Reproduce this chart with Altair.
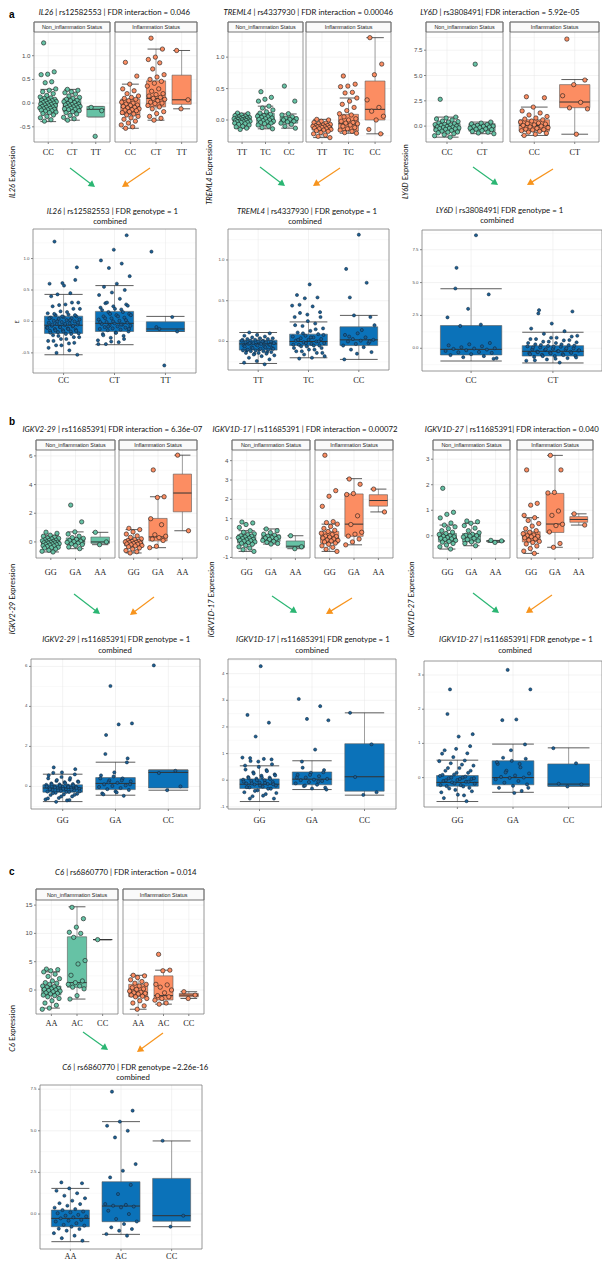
import math
import altair as alt
import pandas as pd

# ======================= labels =======================
IL26_GENOTYPES = ["CC", "CT", "TT"]
TREML4_GENOTYPES = ["TT", "TC", "CC"]
LY6D_GENOTYPES = ["CC", "CT"]
IGKV_GENOTYPES = ["GG", "GA", "AA"]
IGKV_GENOTYPES_COMBINED = ["GG", "GA", "CC"]
C6_GENOTYPES = ["AA", "AC", "CC"]
STATUS_LABELS = ["Non_inflammation Status", "Inflammation Status"]

# ======================= IL26 | rs12582553 =======================
IL26_NON_CC = [1.27, 0.66, 0.61, 0.60, 0.45, 0.43, 0.30, 0.27, 0.24, 0.20, 0.16, 0.13, 0.11, 0.10, 0.08, 0.07,
               0.06, 0.05, 0.04, 0.03, 0.02, 0.01, 0.00, -0.01, -0.02, -0.03, -0.04, -0.05, -0.06, -0.07, -0.08,
               -0.09, -0.10, -0.11, -0.12, -0.13, -0.14, -0.15, -0.16, -0.17, -0.19, -0.20, -0.22, -0.25, -0.28,
               -0.31, -0.35, -0.38]
IL26_NON_CT = [0.29, 0.27, 0.24, 0.22, 0.19, 0.15, 0.12, 0.10, 0.08, 0.06, 0.05, 0.03, 0.01, -0.01, -0.02, -0.03,
               -0.04, -0.05, -0.06, -0.07, -0.08, -0.09, -0.10, -0.11, -0.12, -0.13, -0.14, -0.16, -0.18, -0.20,
               -0.23, -0.26, -0.30, -0.33, -0.36]
IL26_NON_TT = [-0.09, -0.16, -0.70]
IL26_INF_CC = [0.86, 0.57, 0.40, 0.30, 0.26, 0.20, 0.15, 0.12, 0.10, 0.08, 0.05, 0.02, 0.00, -0.02, -0.04, -0.05,
               -0.07, -0.09, -0.10, -0.12, -0.14, -0.15, -0.16, -0.18, -0.20, -0.23, -0.25, -0.28, -0.31, -0.34,
               -0.38, -0.42, -0.46, -0.50, -0.53]
IL26_INF_CT = [1.37, 1.14, 0.97, 0.92, 0.85, 0.72, 0.60, 0.55, 0.50, 0.46, 0.42, 0.36, 0.30, 0.25, 0.20, 0.18,
               0.15, 0.12, 0.10, 0.08, 0.05, 0.02, 0.00, -0.01, -0.05, -0.08, -0.12, -0.18, -0.22, -0.28, -0.32,
               -0.36]
IL26_INF_TT = [1.11, 0.07, -0.12]
# box summaries: [lower whisker, Q1, median, Q3, upper whisker]
IL26_BOX_NON = [[-0.39, -0.15, -0.03, 0.085, 0.29], [-0.36, -0.18, -0.06, 0.10, 0.29], [-0.29, -0.29, -0.13, -0.07, -0.07]]
IL26_BOX_INF = [[-0.53, -0.24, -0.09, 0.085, 0.40], [-0.36, -0.08, 0.10, 0.47, 1.14], [-0.12, -0.025, 0.07, 0.59, 1.11]]
IL26_BOX_COMBINED = [[-0.53, -0.19, -0.06, 0.084, 0.43], [-0.37, -0.16, -0.03, 0.16, 0.57], [-0.16, -0.16, -0.12, -0.006, 0.08]]

# ======================= TREML4 | rs4337930 =======================
TREML4_NON_TT = [0.11, 0.10, 0.08, 0.07, 0.06, 0.05, 0.04, 0.04, 0.03, 0.03, 0.02, 0.02, 0.01, 0.01, 0.00, 0.00,
                 -0.01, -0.01, -0.02, -0.02, -0.03, -0.03, -0.04, -0.04, -0.05, -0.06, -0.07, -0.08, -0.10, -0.11,
                 -0.13, -0.15]
TREML4_NON_TC = [0.45, 0.36, 0.33, 0.30, 0.22, 0.19, 0.16, 0.13, 0.11, 0.09, 0.07, 0.06, 0.05, 0.04, 0.03, 0.02,
                 0.01, 0.00, -0.01, -0.02, -0.03, -0.04, -0.05, -0.06, -0.08, -0.10, -0.12, -0.14]
TREML4_NON_CC = [0.54, 0.30, 0.10, 0.08, 0.05, 0.03, 0.02, 0.01, 0.00, -0.02, -0.03, -0.05, -0.07, -0.10, -0.13]
TREML4_INF_TT = [0.01, 0.00, -0.02, -0.04, -0.05, -0.06, -0.07, -0.08, -0.09, -0.09, -0.10, -0.10, -0.11, -0.11,
                 -0.12, -0.12, -0.13, -0.14, -0.14, -0.15, -0.16, -0.17, -0.18, -0.20, -0.22, -0.24, -0.26, -0.28]
TREML4_INF_TC = [0.70, 0.57, 0.54, 0.53, 0.44, 0.43, 0.35, 0.30, 0.25, 0.20, 0.15, 0.10, 0.08, 0.05, 0.02, 0.00,
                 -0.02, -0.04, -0.05, -0.06, -0.08, -0.10, -0.12, -0.14, -0.16, -0.18, -0.20, -0.21]
TREML4_INF_CC = [1.31, 0.89, 0.72, 0.32, 0.20, 0.14, 0.06, 0.00, -0.15, -0.22]
TREML4_BOX_NON = [[-0.13, -0.043, 0.0, 0.053, 0.107], [-0.14, -0.064, 0.016, 0.107, 0.22], [-0.13, -0.05, 0.0, 0.05, 0.096]]
TREML4_BOX_INF = [[-0.28, -0.16, -0.11, -0.064, 0.01], [-0.21, -0.175, -0.06, 0.09, 0.35], [-0.22, 0.0, 0.17, 0.62, 1.31]]
TREML4_BOX_COMBINED = [[-0.27, -0.106, -0.03, 0.016, 0.11], [-0.20, -0.05, 0.0, 0.09, 0.24], [-0.22, -0.05, 0.02, 0.18, 0.32]]

# ======================= LY6D | rs3808491 =======================
LY6D_NON_CC = [2.65, 0.89, 0.80, 0.70, 0.60, 0.50, 0.45, 0.40, 0.30, 0.24, 0.18, 0.15, 0.12, 0.06, 0.00, -0.04,
               -0.08, -0.10, -0.14, -0.18, -0.22, -0.25, -0.27, -0.32, -0.38, -0.44, -0.50, -0.58, -0.60, -0.66,
               -0.75, -0.85, -0.95, -1.09]
LY6D_NON_CT = [6.12, 0.40, 0.30, 0.22, 0.15, 0.08, 0.00, -0.02, -0.05, -0.10, -0.15, -0.20, -0.28, -0.30, -0.35,
               -0.45, -0.52, -0.60, -0.68, -0.75]
LY6D_INF_CC = [2.90, 2.80, 1.88, 1.50, 1.30, 1.10, 0.95, 0.80, 0.70, 0.62, 0.50, 0.40, 0.30, 0.25, 0.20, 0.12,
               0.07, 0.00, -0.08, -0.15, -0.22, -0.30, -0.35, -0.38, -0.45, -0.52, -0.60, -0.70, -0.80, -0.92]
LY6D_INF_CT = [8.60, 4.55, 4.10, 3.00, 2.35, 1.80, 1.70, -0.80]
LY6D_BOX_NON = [[-1.09, -0.50, -0.10, 0.24, 0.89], [-0.75, -0.50, -0.10, 0.24, 0.40]]
LY6D_BOX_INF = [[-0.92, -0.50, 0.07, 0.63, 1.88], [-0.80, 1.82, 2.38, 4.10, 4.60]]
LY6D_BOX_COMBINED = [[-0.97, -0.51, -0.08, 1.73, 4.53], [-1.12, -0.59, -0.23, 0.20, 1.22]]

# ======================= IGKV2-29 | rs11685391 =======================
IGKV229_NON_GG = [0.68, 0.60, 0.47, 0.40, 0.33, 0.27, 0.25, 0.21, 0.15, 0.12, 0.10, 0.08, 0.04, 0.00, -0.02, -0.03,
                  -0.06, -0.07, -0.09, -0.12, -0.15, -0.18, -0.20, -0.22, -0.26, -0.28, -0.32, -0.37, -0.40, -0.43,
                  -0.50, -0.58, -0.65, -0.70]
IGKV229_NON_GA = [2.57, 1.40, 0.70, 0.55, 0.40, 0.30, 0.25, 0.18, 0.10, 0.05, 0.02, -0.03, -0.08, -0.14, -0.18,
                  -0.25, -0.35, -0.47]
IGKV229_NON_AA = [0.67, 0.00, -0.19]
IGKV229_INF_GG = [0.95, 0.86, 0.70, 0.55, 0.42, 0.32, 0.22, 0.16, 0.10, 0.05, 0.03, 0.00, -0.03, -0.05, -0.08,
                  -0.12, -0.14, -0.16, -0.20, -0.25, -0.28, -0.34, -0.42, -0.50, -0.60, -0.68, -0.77]
IGKV229_INF_GA = [5.02, 3.15, 3.10, 1.62, 1.20, 0.50, 0.40, 0.30, 0.20, 0.10, -0.30, -0.40]
IGKV229_INF_AA = [6.05, 0.78]
IGKV229_BOX_NON = [[-0.70, -0.28, -0.07, 0.12, 0.47], [-0.47, -0.16, 0.05, 0.28, 0.70], [-0.19, -0.10, 0.00, 0.34, 0.67]]
IGKV229_BOX_INF = [[-0.77, -0.28, -0.05, 0.16, 0.86], [-0.40, 0.07, 0.35, 1.64, 3.15], [0.78, 2.10, 3.41, 4.73, 6.05]]
IGKV229_BOX_COMBINED = [[-0.76, -0.29, -0.08, 0.08, 0.61], [-0.44, -0.16, 0.15, 0.44, 1.21], [-0.19, -0.08, 0.70, 0.82, 0.82]]

# ======================= IGKV1D-17 | rs11685391 =======================
IGKV1D17_NON_GG = [0.83, 0.78, 0.70, 0.55, 0.38, 0.30, 0.22, 0.17, 0.12, 0.10, 0.06, 0.02, 0.00, -0.03, -0.07,
                   -0.09, -0.12, -0.14, -0.16, -0.20, -0.24, -0.27, -0.32, -0.38, -0.45, -0.52, -0.60, -0.69]
IGKV1D17_NON_GA = [0.47, 0.38, 0.28, 0.20, 0.15, 0.10, 0.05, 0.02, 0.00, -0.03, -0.07, -0.12, -0.17, -0.22, -0.28, -0.31]
IGKV1D17_NON_AA = [0.12, -0.45, -0.55]
IGKV1D17_INF_GG = [4.28, 2.45, 2.16, 1.64, 0.85, 0.80, 0.72, 0.60, 0.50, 0.40, 0.34, 0.25, 0.18, 0.10, 0.08, 0.05,
                   0.00, -0.05, -0.10, -0.12, -0.15, -0.20, -0.26, -0.32, -0.40, -0.48, -0.58, -0.69]
IGKV1D17_INF_GA = [3.05, 2.78, 2.30, 2.25, 1.15, 0.70, 0.30, 0.20, 0.10, -0.05, -0.20, -0.35]
IGKV1D17_INF_AA = [2.53, 1.35]
IGKV1D17_BOX_NON = [[-0.69, -0.26, -0.09, 0.17, 0.38], [-0.31, -0.17, 0.00, 0.17, 0.47], [-0.55, -0.50, -0.42, -0.15, 0.12]]
IGKV1D17_BOX_INF = [[-0.69, -0.26, 0.00, 0.34, 0.72], [-0.35, 0.09, 0.72, 2.28, 3.07], [1.35, 1.65, 1.94, 2.24, 2.53]]
IGKV1D17_BOX_COMBINED = [[-0.80, -0.31, -0.15, 0.05, 0.54], [-0.35, -0.17, 0.04, 0.31, 0.73], [-0.56, -0.41, 0.13, 1.37, 2.53]]

# ======================= IGKV1D-27 | rs11685391 =======================
IGKV1D27_NON_GG = [1.86, 0.92, 0.84, 0.70, 0.50, 0.42, 0.35, 0.28, 0.20, 0.14, 0.09, 0.05, 0.00, -0.02, -0.04,
                   -0.07, -0.10, -0.12, -0.14, -0.18, -0.22, -0.25, -0.30, -0.36, -0.43, -0.52]
IGKV1D27_NON_GA = [0.58, 0.55, 0.49, 0.40, 0.30, 0.20, 0.12, 0.06, 0.02, 0.00, -0.01, -0.05, -0.10, -0.15, -0.20,
                   -0.24, -0.30, -0.39]
IGKV1D27_NON_AA = [-0.18, -0.20, -0.26]
IGKV1D27_INF_GG = [2.58, 1.27, 1.20, 0.80, 0.71, 0.60, 0.48, 0.38, 0.28, 0.20, 0.14, 0.08, 0.03, 0.00, -0.02,
                   -0.04, -0.08, -0.12, -0.17, -0.22, -0.26, -0.32, -0.40, -0.50, -0.60, -0.69]
IGKV1D27_INF_GA = [3.15, 2.58, 1.70, 1.68, 0.97, 0.80, 0.45, 0.40, 0.15, -0.30, -0.45]
IGKV1D27_INF_AA = [0.86, 0.42]
IGKV1D27_BOX_NON = [[-0.52, -0.24, -0.07, 0.09, 0.42], [-0.39, -0.24, -0.01, 0.09, 0.49], [-0.26, -0.23, -0.20, -0.19, -0.18]]
IGKV1D27_BOX_INF = [[-0.69, -0.24, -0.04, 0.16, 0.71], [-0.45, 0.13, 0.46, 1.66, 3.15], [0.42, 0.53, 0.64, 0.75, 0.86]]
IGKV1D27_BOX_COMBINED = [[-0.70, -0.25, -0.14, 0.06, 0.51], [-0.43, -0.21, 0.00, 0.49, 0.98], [-0.25, -0.25, -0.19, 0.40, 0.87]]

# ======================= C6 | rs6860770 =======================
C6_NON_AA = [3.7, 3.6, 3.4, 3.2, 2.8, 2.4, 2.0, 1.6, 1.3, 1.2, 1.0, 0.7, 0.6, 0.5, 0.3, 0.2, 0.1, 0.0, -0.1, -0.2,
             -0.3, -0.5, -0.6, -0.7, -0.9, -1.0, -1.2, -1.5, -1.9, -2.3, -2.7, -3.2, -3.4]
C6_NON_AC = [14.6, 12.6, 11.1, 10.2, 10.0, 9.3, 5.2, 4.6, 2.6, 1.6, 1.3, 1.0, 0.7, 0.5, 0.2, -1.0, -1.6]
C6_NON_CC = [8.9]
C6_INF_AA = [2.6, 2.5, 2.2, 1.8, 1.5, 1.2, 1.0, 0.7, 0.4, 0.2, 0.1, -0.2, -0.4, -0.5, -0.6, -0.7, -0.9, -1.1,
             -1.2, -1.5, -1.9, -2.3, -2.8, -3.4]
C6_INF_AC = [6.3, 3.5, 3.4, 1.0, 0.9, 0.5, 0.0, -0.5, -1.0, -1.2, -1.5, -1.8, -2.3, -2.5]
C6_INF_CC = [-0.3, -0.9, -1.5]
C6_COMB_AA = [1.90, 1.85, 1.54, 1.40, 1.25, 1.10, 0.95, 0.80, 0.65, 0.60, 0.50, 0.38, 0.30, 0.24, 0.15, 0.10,
              0.05, -0.05, -0.10, -0.15, -0.20, -0.26, -0.35, -0.40, -0.45, -0.55, -0.65, -0.70, -0.76, -0.88,
              -0.90, -1.00, -1.15, -1.30, -1.45, -1.60]
C6_COMB_AC = [7.35, 6.21, 5.55, 5.30, 5.00, 4.60, 3.00, 2.60, 2.20, 1.75, 1.20, 0.60, 0.55, 0.50, 0.45, 0.40,
              0.20, 0.00, -0.30, -0.45, -0.60, -0.80, -0.90, -1.00, -1.20, -1.30]
C6_COMB_CC = [4.40, -0.10, -0.76]
C6_BOX_NON = [[-3.2, -0.88, 0.0, 0.7, 3.2], [-1.6, 0.47, 1.3, 9.4, 14.7], [8.9, 8.9, 8.9, 8.9, 8.9]]
C6_BOX_INF = [[-3.4, -1.18, -0.47, 1.0, 2.6], [-2.5, -1.76, -1.0, 2.5, 3.5], [-1.5, -1.2, -0.9, -0.6, -0.3]]
C6_BOX_COMBINED = [[-1.66, -0.76, -0.26, 0.24, 1.54], [-1.22, -0.46, 0.48, 1.94, 5.55], [-0.76, -0.43, -0.10, 2.14, 4.39]]

# ======================= layout (page pixel coordinates) =======================
W, H = 594, 1254


def P(v):
    return v - 8


LAYOUT = {
    "IL26": dict(title=(112, 13), strip=(22, 32), pbot=142, non=(34, 110), inf=(115, 197), ylab=(13, 172),
                 green=(70, 168, 95, 187), orange=(150, 168, 122, 187), btitle=(110, 212, 222),
                 bx=(33, 196), by=(229, 373), xl_top=153, xl_bot=381,
                 ydom=(-0.82, 1.50), bydom=(-0.82, 1.47), ticks=[-0.5, 0, 0.5, 1.0], bticks=[-0.5, 0, 0.5, 1.0],
                 fmt=".1f", bfmt=".1f"),
    "TREML4": dict(title=(306, 13), strip=(22, 32), pbot=142, non=(228, 303), inf=(306, 391), ylab=(210, 172),
                   green=(260, 167, 285, 186), orange=(340, 168, 313, 186), btitle=(305, 212, 222),
                   bx=(228, 389), by=(229, 370), xl_top=153, xl_bot=381,
                   ydom=(-0.35, 1.40), bydom=(-0.35, 1.38), ticks=[0, 0.5, 1.0], bticks=[0, 0.5, 1.0],
                   fmt=".1f", bfmt=".1f"),
    "LY6D": dict(title=(497, 13), strip=(22, 32), pbot=142, non=(426, 503), inf=(510, 599), ylab=(406, 172),
                 green=(473, 167, 498, 185), orange=(553, 169, 527, 185), btitle=(497, 211, 221),
                 bx=(422, 602), by=(230, 371), xl_top=153, xl_bot=381,
                 ydom=(-1.57, 9.3), bydom=(-1.73, 9.0), ticks=[0, 2.5, 5.0, 7.5], bticks=[0, 2.5, 5.0, 7.5],
                 fmt=".1f", bfmt=".1f"),
    "IGKV2-29": dict(title=(111, 430), strip=(440, 450), pbot=558, non=(36, 115), inf=(119, 197), ylab=(13, 598),
                     green=(74, 594, 100, 614), orange=(154, 597, 130, 615), btitle=(115, 640, 651),
                     bx=(31, 200), by=(659, 809), xl_top=573, xl_bot=821,
                     ydom=(-1.12, 6.41), bydom=(-1.13, 6.37), ticks=[0, 2, 4, 6], bticks=[0, 2, 4, 6],
                     fmt="d", bfmt="d"),
    "IGKV1D-17": dict(title=(304, 430), strip=(440, 450), pbot=558, non=(232, 310), inf=(315, 393), ylab=(212, 598),
                      green=(272, 596, 297, 613), orange=(352, 598, 326, 614), btitle=(312, 640, 651),
                      bx=(228, 396), by=(659, 809), xl_top=573, xl_bot=821,
                      ydom=(-1.03, 4.55), bydom=(-1.08, 4.55), ticks=[-1, 0, 1, 2, 3, 4], bticks=[-1, 0, 1, 2, 3, 4],
                      fmt="d", bfmt="d"),
    "IGKV1D-27": dict(title=(511, 430), strip=(440, 450), pbot=558, non=(433, 510), inf=(517, 593), ylab=(412, 598),
                      green=(473, 593, 499, 613), orange=(552, 595, 526, 613), btitle=(515, 640, 651),
                      bx=(424, 602), by=(661, 807), xl_top=573, xl_bot=821,
                      ydom=(-0.87, 3.36), bydom=(-0.86, 3.41), ticks=[0, 1, 2, 3], bticks=[0, 1, 2, 3],
                      fmt="d", bfmt="d"),
    "C6": dict(title=(124, 873), strip=(889, 900), pbot=1014, non=(36, 118), inf=(123, 204), ylab=(13, 1028),
               green=(83, 1032, 108, 1050), orange=(163, 1033, 137, 1052), btitle=(133, 1068, 1078),
               bx=(40, 202), by=(1085, 1249), xl_top=1024, xl_bot=1257,
               ydom=(-4.24, 15.9), bydom=(-2.1, 7.75), ticks=[0, 5, 10, 15], bticks=[0, 2.5, 5.0, 7.5],
               fmt="d", bfmt=".1f"),
}

GENES = [
    dict(gene="IL26", snp="rs12582553 | FDR interaction = 0.046", bsnp="rs12582553 | FDR genotype = 1",
         geno=IL26_GENOTYPES, bgeno=IL26_GENOTYPES,
         non=[IL26_NON_CC, IL26_NON_CT, IL26_NON_TT], inf=[IL26_INF_CC, IL26_INF_CT, IL26_INF_TT],
         comb=[IL26_NON_CC + IL26_INF_CC, IL26_NON_CT + IL26_INF_CT, IL26_NON_TT + IL26_INF_TT],
         bnon=IL26_BOX_NON, binf=IL26_BOX_INF, bcomb=IL26_BOX_COMBINED, E=True),
    dict(gene="TREML4", snp="rs4337930 | FDR interaction = 0.00046", bsnp="rs4337930 | FDR genotype = 1",
         geno=TREML4_GENOTYPES, bgeno=TREML4_GENOTYPES,
         non=[TREML4_NON_TT, TREML4_NON_TC, TREML4_NON_CC], inf=[TREML4_INF_TT, TREML4_INF_TC, TREML4_INF_CC],
         comb=[TREML4_NON_TT + TREML4_INF_TT, TREML4_NON_TC + TREML4_INF_TC, TREML4_NON_CC + TREML4_INF_CC],
         bnon=TREML4_BOX_NON, binf=TREML4_BOX_INF, bcomb=TREML4_BOX_COMBINED),
    dict(gene="LY6D", snp="rs3808491| FDR interaction = 5.92e-05", bsnp="rs3808491| FDR genotype = 1",
         geno=LY6D_GENOTYPES, bgeno=LY6D_GENOTYPES,
         non=[LY6D_NON_CC, LY6D_NON_CT], inf=[LY6D_INF_CC, LY6D_INF_CT],
         comb=[LY6D_NON_CT + LY6D_INF_CT, LY6D_NON_CC + LY6D_INF_CC],
         bnon=LY6D_BOX_NON, binf=LY6D_BOX_INF, bcomb=LY6D_BOX_COMBINED),
    dict(gene="IGKV2-29", snp="rs11685391| FDR interaction = 6.36e-07", bsnp="rs11685391| FDR genotype = 1",
         geno=IGKV_GENOTYPES, bgeno=IGKV_GENOTYPES_COMBINED,
         non=[IGKV229_NON_GG, IGKV229_NON_GA, IGKV229_NON_AA], inf=[IGKV229_INF_GG, IGKV229_INF_GA, IGKV229_INF_AA],
         comb=[IGKV229_NON_GG + IGKV229_INF_GG, IGKV229_NON_GA + IGKV229_INF_GA, IGKV229_NON_AA + IGKV229_INF_AA],
         bnon=IGKV229_BOX_NON, binf=IGKV229_BOX_INF, bcomb=IGKV229_BOX_COMBINED),
    dict(gene="IGKV1D-17", snp="rs11685391 | FDR interaction = 0.00072", bsnp="rs11685391| FDR genotype = 1",
         geno=IGKV_GENOTYPES, bgeno=IGKV_GENOTYPES_COMBINED,
         non=[IGKV1D17_NON_GG, IGKV1D17_NON_GA, IGKV1D17_NON_AA], inf=[IGKV1D17_INF_GG, IGKV1D17_INF_GA, IGKV1D17_INF_AA],
         comb=[IGKV1D17_NON_GG + IGKV1D17_INF_GG, IGKV1D17_NON_GA + IGKV1D17_INF_GA, IGKV1D17_NON_AA + IGKV1D17_INF_AA],
         bnon=IGKV1D17_BOX_NON, binf=IGKV1D17_BOX_INF, bcomb=IGKV1D17_BOX_COMBINED),
    dict(gene="IGKV1D-27", snp="rs11685391| FDR interaction = 0.040", bsnp="rs11685391| FDR genotype = 1",
         geno=IGKV_GENOTYPES, bgeno=IGKV_GENOTYPES_COMBINED,
         non=[IGKV1D27_NON_GG, IGKV1D27_NON_GA, IGKV1D27_NON_AA], inf=[IGKV1D27_INF_GG, IGKV1D27_INF_GA, IGKV1D27_INF_AA],
         comb=[IGKV1D27_NON_GG + IGKV1D27_INF_GG, IGKV1D27_NON_GA + IGKV1D27_INF_GA, IGKV1D27_NON_AA + IGKV1D27_INF_AA],
         bnon=IGKV1D27_BOX_NON, binf=IGKV1D27_BOX_INF, bcomb=IGKV1D27_BOX_COMBINED),
    dict(gene="C6", snp="rs6860770 | FDR interaction = 0.014", bsnp="rs6860770 | FDR genotype =2.26e-16",
         geno=C6_GENOTYPES, bgeno=C6_GENOTYPES,
         non=[C6_NON_AA, C6_NON_AC, C6_NON_CC], inf=[C6_INF_AA, C6_INF_AC, C6_INF_CC],
         comb=[C6_COMB_AA, C6_COMB_AC, C6_COMB_CC],
         bnon=C6_BOX_NON, binf=C6_BOX_INF, bcomb=C6_BOX_COMBINED),
]

# ======================= style =======================
SANS = "Lato"
ARIAL = "Liberation Sans"
SERIF = "Liberation Serif"
GREEN, ORANGE = "#66C2A5", "#FC8D62"
BLUE_BOX, BLUE_PT = "#0B72B9", "#1D5F93"
GRID_MAJ, GRID_MIN = "#E6E6E6", "#F3F3F3"
ARROW_G, ARROW_O = "#2BB673", "#F7941D"
TFS = 7.8


def jit(k):
    return ((k * 0.6180339887 + 0.23) % 1.0) - 0.5


def fmt_tick(t, f):
    return str(int(round(t))) if f == "d" else format(t, f)


def subpanel(groups, boxes, labels, xr, yr, ydom, yticks, yfmt, show_y, kind, xl_center, yfs):
    n = len(labels)
    xs = alt.Scale(domain=[0.4, n + 0.6], range=[P(xr[0]), P(xr[1])], nice=False, zero=False)
    ys = alt.Scale(domain=list(ydom), range=[P(yr[1]), P(yr[0])], nice=False, zero=False)
    top = kind != "comb"
    fill = {"non": GREEN, "inf": ORANGE, "comb": BLUE_BOX}[kind]
    pfill = {"non": GREEN, "inf": ORANGE, "comb": BLUE_PT}[kind]
    xfs = 8.3

    step = yticks[1] - yticks[0]
    hrows = [dict(y=t, x0=0.4, x1=n + 0.6, c=GRID_MAJ) for t in yticks]
    for t in [yticks[0] - step] + list(yticks):
        m = t + step / 2
        if ydom[0] < m < ydom[1]:
            hrows.append(dict(y=m, x0=0.4, x1=n + 0.6, c=GRID_MIN))
    hdf = pd.DataFrame(hrows)
    vdf = pd.DataFrame([dict(x=i + 1, y0=ydom[0], y1=ydom[1]) for i in range(n)])
    bw, cw = 0.375, (0.33 if top else 0.375)
    brows, prow = [], []
    for i, (vals, b) in enumerate(zip(groups, boxes)):
        c = i + 1
        brows.append(dict(x=c, lo=b[0], q1=b[1], med=b[2], q3=b[3], hi=b[4],
                          bx0=c - bw, bx1=c + bw, c0=c - cw, c1=c + cw))
        jw = 0.36 if top else 0.33
        for k, v in enumerate(vals):
            prow.append(dict(x=c + jit(k) * 2 * jw, v=v))
    bdf, pdf = pd.DataFrame(brows), pd.DataFrame(prow)
    xtk = pd.DataFrame({"x": list(range(1, n + 1)), "lab": labels})
    ytk = pd.DataFrame({"v": list(yticks), "lab": [fmt_tick(t, yfmt) for t in yticks]})

    def X(f):
        return alt.X(f, type="quantitative", scale=xs, axis=None)

    def Y(f):
        return alt.Y(f, type="quantitative", scale=ys, axis=None)

    layers = [
        alt.Chart(hdf).mark_rule(strokeWidth=0.5).encode(
            x=X("x0"), x2="x1:Q", y=Y("y"), stroke=alt.Stroke("c:N", scale=None)),
        alt.Chart(vdf).mark_rule(strokeWidth=0.5, stroke=GRID_MAJ).encode(x=X("x"), y=Y("y0"), y2="y1:Q"),
        alt.Chart(bdf).mark_rule(strokeWidth=0.7, stroke="#7a7a7a").encode(x=X("x"), y=Y("lo"), y2="hi:Q"),
        alt.Chart(bdf).mark_rule(strokeWidth=0.8, stroke="#333333").encode(x=X("c0"), x2="c1:Q", y=Y("lo")),
        alt.Chart(bdf).mark_rule(strokeWidth=0.8, stroke="#333333").encode(x=X("c0"), x2="c1:Q", y=Y("hi")),
        alt.Chart(bdf).mark_rect(fill=fill, stroke="#5a5a5a", strokeWidth=0.6).encode(
            x=X("bx0"), x2="bx1:Q", y=Y("q1"), y2="q3:Q"),
        alt.Chart(bdf).mark_rule(strokeWidth=1.0, stroke="#333333").encode(x=X("bx0"), x2="bx1:Q", y=Y("med")),
    ]
    if top:
        layers.append(alt.Chart(pdf).mark_circle(size=19, fill=pfill, stroke="#1a1a1a", strokeWidth=0.6,
                                                 opacity=1).encode(x=X("x"), y=Y("v")))
    else:
        layers.append(alt.Chart(pdf).mark_circle(size=10, fill=pfill, stroke="#0c2236", strokeWidth=0.5,
                                                 opacity=1).encode(x=X("x"), y=Y("v")))
    # x tick marks and genotype labels
    layers.append(alt.Chart(xtk).mark_rule(stroke="#333333", strokeWidth=0.6).encode(
        x=X("x"), y=alt.value(P(yr[1])), y2=alt.value(P(yr[1]) + 2)))
    layers.append(alt.Chart(xtk).mark_text(font=SERIF, fontSize=xfs, color="#1a1a1a", align="center",
                                           baseline="middle").encode(
        x=X("x"), y=alt.value(P(xl_center)), text="lab:N"))
    if show_y:
        layers.append(alt.Chart(ytk).mark_rule(stroke="#333333", strokeWidth=0.6).encode(
            x=alt.value(P(xr[0]) - 2), x2=alt.value(P(xr[0])), y=Y("v")))
        layers.append(alt.Chart(ytk).mark_text(font=ARIAL, fontSize=yfs, color="#4d4d4d", align="right",
                                               baseline="middle").encode(
            x=alt.value(P(xr[0]) - 3.5), y=Y("v"), text="lab:N"))
    return alt.layer(*layers)


def est_w(s, fs):
    w = 0.0
    for ch in s:
        if ch.isdigit() or ch == "=":
            w += 0.56
        elif ch == " ":
            w += 0.25
        elif ch in "|.,:I":
            w += 0.25
        elif ch == "-":
            w += 0.33
        elif ch.isupper():
            w += 0.62
        elif ch in "iljtfr":
            w += 0.3
        elif ch in "mw":
            w += 0.82
        else:
            w += 0.52
    return w * fs


panels = []
strips, borders, lines, heads = [], [], [], []
texts = {}


def add_text(key, **kw):
    texts.setdefault(key, []).append(kw)


def mixed(gene, rest, cx, cy, fs, rotate=False):
    gap = 0.26 * fs
    wg, wr = est_w(gene, fs), est_w(rest, fs)
    total = wg + gap + wr
    if rotate:
        g_end = cy + total / 2 - wg          # top end of the gene (rotated text reads upward)
        add_text(("italic", "right"), x=P(cx), y=P(g_end), t=gene, fs=fs, ang=270, col="#111111")
        add_text(("normal", "left"), x=P(cx), y=P(g_end - gap), t=rest, fs=fs, ang=270, col="#111111")
    else:
        g_end = cx - total / 2 + wg
        add_text(("italic", "right"), x=P(g_end), y=P(cy), t=gene, fs=fs, ang=0, col="#111111")
        add_text(("normal", "left"), x=P(g_end + gap), y=P(cy), t=rest, fs=fs, ang=0, col="#111111")


for G in GENES:
    L = LAYOUT[G["gene"]]
    top_y = (L["strip"][1], L["pbot"])
    panels.append(subpanel(G["non"], G["bnon"], G["geno"], L["non"], top_y, L["ydom"], L["ticks"], L["fmt"],
                           True, "non", L["xl_top"], 6.2))
    panels.append(subpanel(G["inf"], G["binf"], G["geno"], L["inf"], top_y, L["ydom"], L["ticks"], L["fmt"],
                           False, "inf", L["xl_top"], 6.2))
    panels.append(subpanel(G["comb"], G["bcomb"], G["bgeno"], L["bx"], L["by"], L["bydom"], L["bticks"],
                           L["bfmt"], True, "comb", L["xl_bot"], 4.4))
    mixed(G["gene"], "| " + G["snp"], L["title"][0], L["title"][1], TFS)
    mixed(G["gene"], "| " + G["bsnp"], L["btitle"][0], L["btitle"][1], TFS)
    add_text(("normal", "center"), x=P(L["btitle"][0]), y=P(L["btitle"][2]), t="combined", fs=TFS, ang=0,
             col="#111111")
    mixed(G["gene"], "Expression", L["ylab"][0], L["ylab"][1], 7.6, rotate=True)
    for (x0, x1), lab in zip([L["non"], L["inf"]], STATUS_LABELS):
        strips.append(dict(x=P(x0), x2=P(x1), y=P(L["strip"][0]), y2=P(L["strip"][1])))
        borders.append(dict(x=P(x0), x2=P(x1), y=P(L["strip"][0]), y2=P(L["pbot"])))
        add_text(("strip", "center"), x=P((x0 + x1) / 2), y=P((L["strip"][0] + L["strip"][1]) / 2 + 0.3),
                 t=lab, fs=5.4, ang=0, col="#1a1a1a")
    borders.append(dict(x=P(L["bx"][0]), x2=P(L["bx"][1]), y=P(L["by"][0]), y2=P(L["by"][1])))
    for (x0, y0, x1, y1), col in [(L["green"], ARROW_G), (L["orange"], ARROW_O)]:
        dx, dy = x1 - x0, y1 - y0
        ln = (dx * dx + dy * dy) ** 0.5
        ux, uy = dx / ln, dy / ln
        lines.append(dict(x=P(x0), y=P(y0), x2=P(x1 - ux * 5), y2=P(y1 - uy * 5), col=col))
        ang = (math.degrees(math.atan2(dx, -dy)) + 360) % 360
        heads.append(dict(x=P(x1 - ux * 3.2), y=P(y1 - uy * 3.2), ang=ang, col=col))
    if G.get("E"):
        add_text(("normal", "center"), x=P(17), y=P(322), t="E", fs=5.5, ang=270, col="#333333")

for lab, (lx, ly) in [("a", (9, 15)), ("b", (9, 422)), ("c", (9, 872))]:
    add_text(("bold", "left"), x=P(lx), y=P(ly), t=lab, fs=10, ang=0, col="#000000")


def PX(f):
    return alt.X(f, type="quantitative", scale=None, axis=None)


def PY(f):
    return alt.Y(f, type="quantitative", scale=None, axis=None)


decor = [
    alt.Chart(pd.DataFrame(strips)).mark_rect(fill="#FAFAFA", stroke="#3a3a3a", strokeWidth=0.7).encode(
        x=PX("x"), x2="x2:Q", y=PY("y"), y2="y2:Q"),
    alt.Chart(pd.DataFrame(borders)).mark_rect(fillOpacity=0, stroke="#7f7f7f", strokeWidth=0.8).encode(
        x=PX("x"), x2="x2:Q", y=PY("y"), y2="y2:Q"),
    alt.Chart(pd.DataFrame(lines)).mark_rule(strokeWidth=1.2).encode(
        x=PX("x"), y=PY("y"), x2="x2:Q", y2="y2:Q", stroke=alt.Stroke("col:N", scale=None)),
    alt.Chart(pd.DataFrame(heads)).mark_point(shape="triangle-up", filled=True, size=55, opacity=1).encode(
        x=PX("x"), y=PY("y"), angle=alt.Angle("ang:Q", scale=None), color=alt.Color("col:N", scale=None)),
]

STYLE = {
    ("italic", "right"): dict(font=SANS, fontStyle="italic", fontWeight="normal", align="right"),
    ("normal", "left"): dict(font=SANS, fontStyle="normal", fontWeight="normal", align="left"),
    ("normal", "center"): dict(font=SANS, fontStyle="normal", fontWeight="normal", align="center"),
    ("strip", "center"): dict(font=ARIAL, fontStyle="normal", fontWeight="normal", align="center"),
    ("bold", "left"): dict(font=ARIAL, fontStyle="normal", fontWeight="bold", align="left"),
}
for key, rows in texts.items():
    decor.append(alt.Chart(pd.DataFrame(rows)).mark_text(baseline="middle", **STYLE[key]).encode(
        x=PX("x"), y=PY("y"), text="t:N", size=alt.Size("fs:Q", scale=None, legend=None),
        angle=alt.Angle("ang:Q", scale=None), color=alt.Color("col:N", scale=None)))

chart = alt.layer(*panels, *decor).resolve_scale(x="independent", y="independent").properties(
    width=W, height=H, autosize=alt.AutoSizeParams(type="none"), padding=0).configure_view(stroke=None)

chart.save("out.html", embed_options={"renderer": "svg", "actions": False})
